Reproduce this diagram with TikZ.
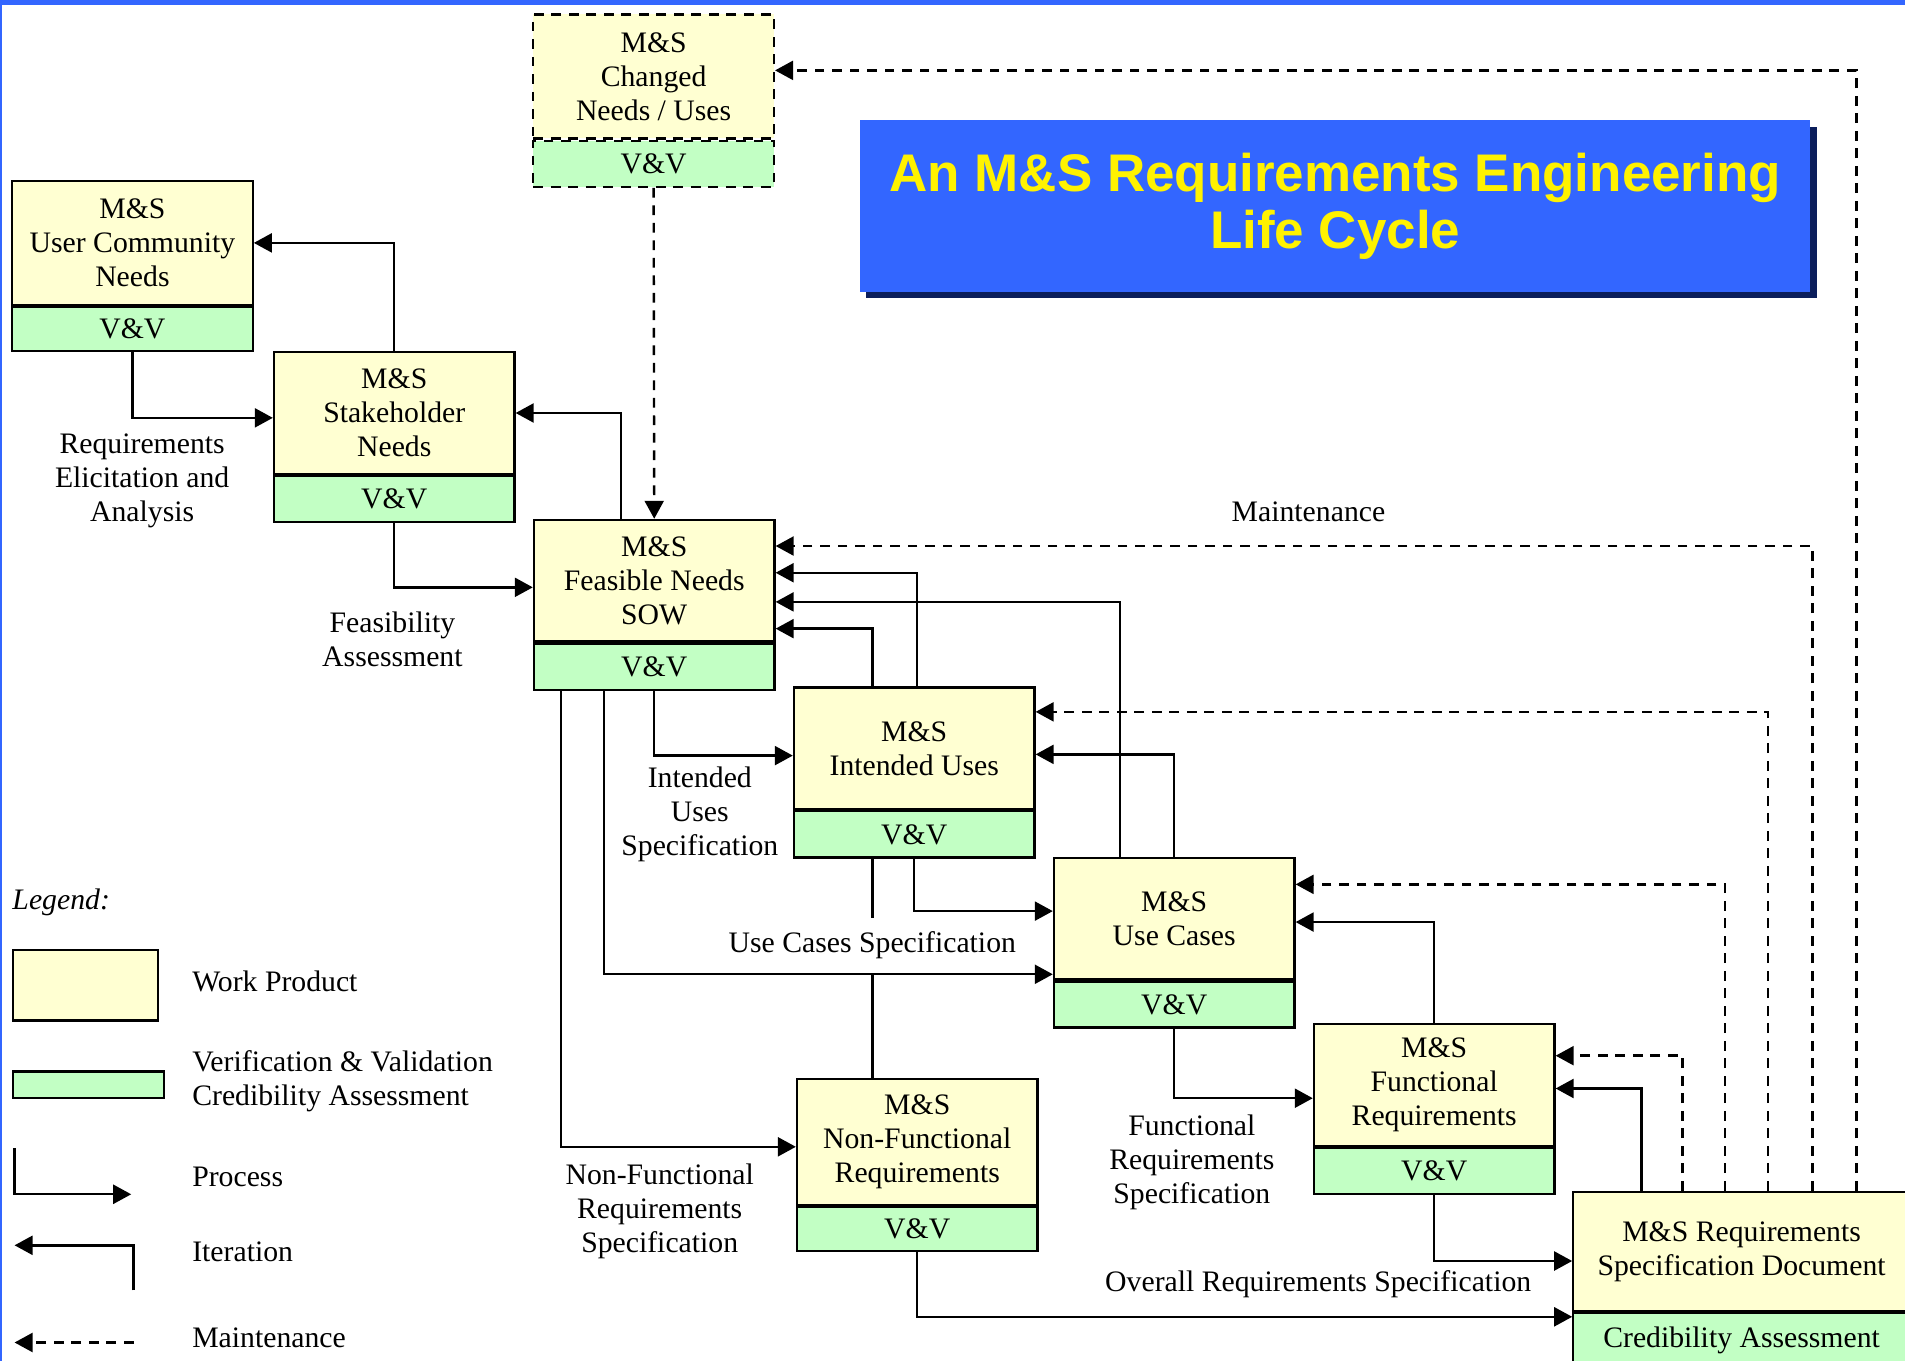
\documentclass[tikz,border=0pt]{standalone}
\usepackage{fontspec}
\setmainfont{Liberation Serif}
\newfontfamily\titlefont{Liberation Sans}
\usetikzlibrary{calc,arrows.meta,shadows}
\definecolor{wpyellow}{HTML}{FFFFD2}
\definecolor{vvgreen}{HTML}{C2FFC4}
\definecolor{slideblue}{HTML}{3366FF}
\definecolor{shadownavy}{HTML}{0B1E5B}
\def\boxfont{\fontsize{17.4}{19.9}\selectfont}
\tikzset{
  wp/.style={draw, line width=1.3pt, fill=wpyellow, minimum width=4.95cm, minimum height=2.5cm, inner sep=0pt, align=center, font=\boxfont, anchor=north},
  vv/.style={draw, line width=1.3pt, fill=vvgreen, minimum width=4.95cm, minimum height=0.95cm, inner sep=0pt, align=center, font=\boxfont, anchor=north},
  dashbox/.style={dash pattern=on 0.2cm off 0.16cm},
  lbl/.style={align=center, font=\boxfont, inner sep=1pt},
  lgtext/.style={lbl, anchor=west, align=left, inner sep=0pt},
  proc/.style={line width=1.4pt, -{Triangle[length=0.37cm,width=0.39cm]}},
  iter/.style={proc},
  maint/.style={proc, dash pattern=on 0.2cm off 0.16cm}
}

\begin{document}
\begin{tikzpicture}[x=0.025cm, y=-0.025cm]
			%%%%% START %%%%%
			\useasboundingbox (0,0) rectangle (1568,1120);
			\clip (0,0) rectangle (1568,1120);
			\fill[slideblue] (0,0) rectangle (1568,4);
			\fill[slideblue] (0,0) rectangle (2,1120);
			
			% title
			\node[fill=slideblue, minimum width=19.55cm, minimum height=3.525cm, align=center,
			      text=yellow, font=\titlefont\bfseries\fontsize{31}{33.4}\selectfont,
			      drop shadow={shadow xshift=0.13cm, shadow yshift=-0.13cm, fill=shadownavy, opacity=1}]
			      (title) at (1099,169.5) {An M\&S Requirements Engineering\\Life Cycle};
			
			% work products
			\node[wp, dashbox, minimum height=2.55cm] (chg) at (538,11) {M\&S\\Changed\\Needs / Uses};
			\node[vv, dashbox] (chg-vv) at (chg.south) {V\&V};
			
			\node[wp, minimum height=2.55cm] (ucn) at (109,148) {M\&S\\User Community\\Needs};
			\node[vv, minimum height=0.9cm] (ucn-vv) at (ucn.south) {V\&V};
			
			\node[wp] (shn) at (324.5,289) {M\&S\\Stakeholder\\Needs};
			\node[vv] (shn-vv) at (shn.south) {V\&V};
			
			\node[wp] (fea) at (538.5,427) {M\&S\\Feasible Needs\\SOW};
			\node[vv] (fea-vv) at (fea.south) {V\&V};
			
			\node[wp] (iu) at (752.5,565) {M\&S\\Intended Uses};
			\node[vv] (iu-vv) at (iu.south) {V\&V};
			
			\node[wp] (uc) at (966.5,705) {M\&S\\Use Cases};
			\node[vv] (uc-vv) at (uc.south) {V\&V};
			
			\node[wp] (fr) at (1180.5,842) {M\&S\\Functional\\Requirements};
			\node[vv] (fr-vv) at (fr.south) {V\&V};
			
			\node[wp, minimum height=2.6cm] (nfr) at (755,887) {M\&S\\Non-Functional\\Requirements};
			\node[vv, minimum height=0.9cm] (nfr-vv) at (nfr.south) {V\&V};
			
			\node[wp, minimum width=6.925cm, minimum height=2.45cm] (rsd) at (1433.5,980) {M\&S Requirements\\Specification Document};
			\node[vv, minimum width=6.925cm, minimum height=1.125cm] (rsd-vv) at (rsd.south) {Credibility Assessment};
			
			% process
			\draw[proc] (ucn-vv.south) |- ($(shn.west)+(0,4)$);
			\draw[proc] (shn-vv.south) |- ($(fea.west)+(0,5.5)$);
			\draw[proc] (fea-vv.south) |- ($(iu.west)+(0,6)$);
			\draw[proc] (iu-vv.south) |- ($(uc.west)+(0,-6)$);
			\draw[proc] (uc-vv.south) |- ($(fr.west)+(0,11)$);
			\draw[proc] (fr-vv.south) |- ($(rsd.west)+(0,8)$);
			\draw[proc] ($(fea-vv.south)+(-76.5,0)$) |- ($(nfr.west)+(0,4)$);
			\draw[proc] (nfr-vv.south) |- ($(rsd-vv.north west)+(0,4)$);
			
			\coordinate (iu-x) at ($(iu-vv.south)+(-34.5,0)$);
			\draw[line width=1.4pt] (iu-x) -- (iu-x |- nfr.north);
			\node[lbl, fill=white, inner xsep=2pt, inner ysep=8pt] (l-ucs) at (718,778) {Use Cases Specification};
			\draw[proc] ($(fea-vv.south)+(-41.5,0)$) |- ($(uc.west)+(0,46)$);
			
			% iteration
			\draw[iter] (shn.north) |- (ucn.east);
			\draw[iter] ($(fea.north)+(-27.5,0)$) |- (shn.east);
			\draw[iter] ($(iu.north)+(2.5,0)$) |- ($(fea.east)+(0,-6.5)$);
			\draw[iter] ($(iu.north)+(-34.5,0)$) |- ($(fea.east)+(0,39.5)$);
			\draw[iter] ($(uc.north)+(-44.5,0)$) |- ($(fea.east)+(0,17.5)$);
			\draw[iter] (uc.north) |- ($(iu.east)+(0,5)$);
			\draw[iter] (fr.north) |- ($(uc.east)+(0,3)$);
			\draw[iter] ($(rsd.north)+(-82.5,0)$) |- ($(fr.east)+(0,3)$);
			
			% maintenance
			\draw[maint] (chg-vv.south) -- (fea.north);
			\draw[maint] ($(rsd.north)+(94.5,0)$) |- ($(chg.east)+(0,-5)$);
			\draw[maint] ($(rsd.north)+(58.5,0)$) |- ($(fea.east)+(0,-28.5)$);
			\draw[maint] ($(rsd.north)+(21.5,0)$) |- ($(iu.east)+(0,-30)$);
			\draw[maint] ($(rsd.north)+(-13.5,0)$) |- ($(uc.east)+(0,-28)$);
			\draw[maint] ($(rsd.north)+(-48.5,0)$) |- ($(fr.east)+(0,-24)$);
			
			% labels
			\node[lbl] (l-elic) at (117,396) {Requirements\\Elicitation and\\Analysis};
			\node[lbl] (l-feas) at (323,526) {Feasibility\\Assessment};
			\node[lbl] (l-ius) at (576,670) {Intended\\Uses\\Specification};
			\node[lbl] (l-nfs) at (543,997) {Non-Functional\\Requirements\\Specification};
			\node[lbl] (l-frs) at (981,957) {Functional\\Requirements\\Specification};
			\node[lbl] (l-ors) at (1085,1057) {Overall Requirements Specification};
			\node[lbl] (l-mnt) at (1077,421) {Maintenance};
			
			% legend
			\node[lgtext, font=\boxfont\itshape] (lg-title) at (10,743) {Legend:};
			\node[draw, line width=1.3pt, fill=wpyellow, minimum width=2.975cm, minimum height=1.45cm, anchor=north west, inner sep=0pt] (lg-wp) at (10,781) {};
			\node[lgtext] (lg-wp-t) at (158,808) {Work Product};
			\node[draw, line width=1.3pt, fill=vvgreen, minimum width=3.1cm, minimum height=0.55cm, anchor=north west, inner sep=0pt] (lg-vv) at (10,881) {};
			\node[lgtext] (lg-vv-t) at (158,890) {Verification \& Validation\\Credibility Assessment};
			
			\coordinate (lg-p-a) at (12,945);
			\coordinate (lg-p-b) at (108,983);
			\draw[proc] (lg-p-a) |- (lg-p-b);
			\node[lgtext] (lg-p-t) at (158,969) {Process};
			
			\coordinate (lg-i-a) at (110,1062);
			\coordinate (lg-i-b) at (12,1025);
			\draw[iter] (lg-i-a) |- (lg-i-b);
			\node[lgtext] (lg-i-t) at (158,1030) {Iteration};
			
			\coordinate (lg-m-a) at (110,1105);
			\coordinate (lg-m-b) at (12,1105);
			\draw[maint] (lg-m-a) -- (lg-m-b);
			\node[lgtext] (lg-m-t) at (158,1101) {Maintenance};
			%%%%% END %%%%%
\end{tikzpicture}
\end{document}
